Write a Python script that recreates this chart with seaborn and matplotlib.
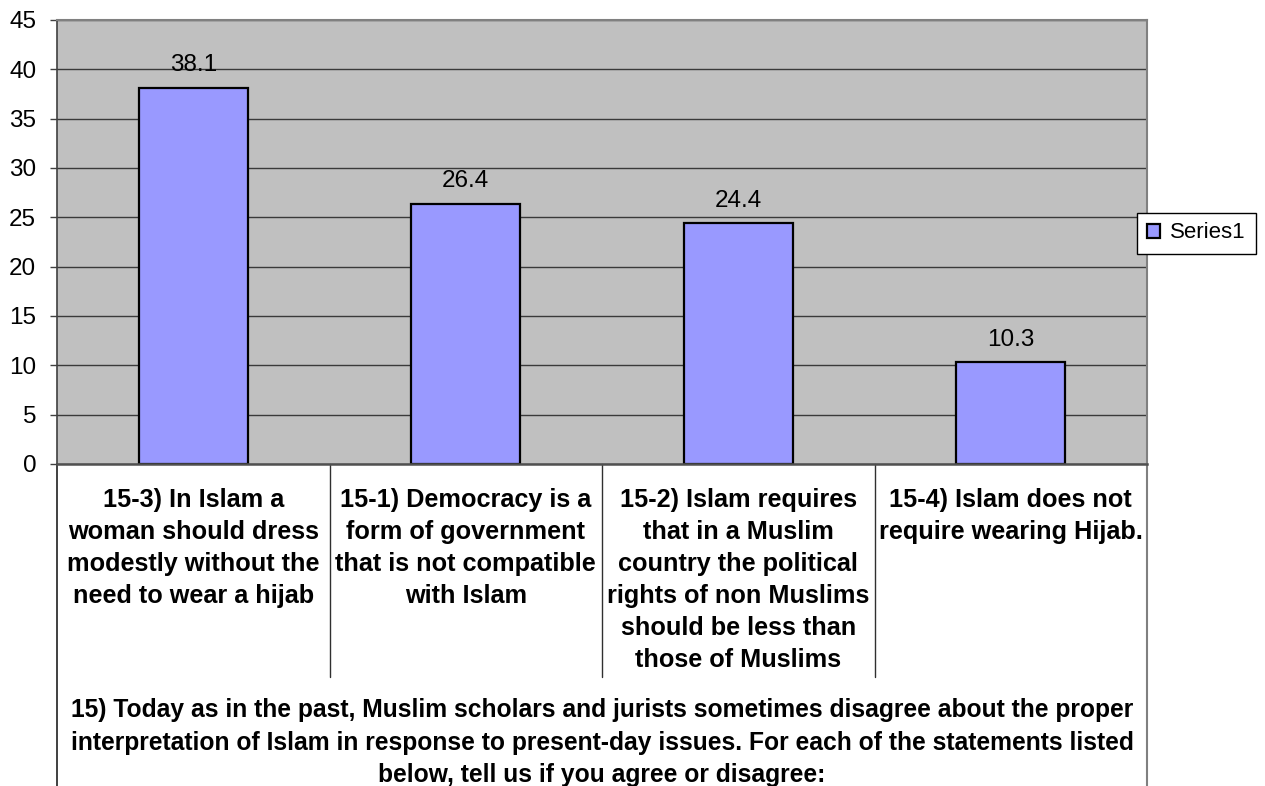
import matplotlib
matplotlib.use("Agg")
import matplotlib.pyplot as plt
import matplotlib.transforms as mtransforms
import seaborn as sns
import pandas as pd

categories = [
    "15-3) In Islam a\nwoman should dress\nmodestly without the\nneed to wear a hijab",
    "15-1) Democracy is a\nform of government\nthat is not compatible\nwith Islam",
    "15-2) Islam requires\nthat in a Muslim\ncountry the political\nrights of non Muslims\nshould be less than\nthose of Muslims",
    "15-4) Islam does not\nrequire wearing Hijab.",
]
values = [38.1, 26.4, 24.4, 10.3]
series_name = "Series1"
group_label = ("15) Today as in the past, Muslim scholars and jurists sometimes disagree about the proper\n"
               "interpretation of Islam in response to present-day issues. For each of the statements listed\n"
               "below, tell us if you agree or disagree:")
yticks = [0, 5, 10, 15, 20, 25, 30, 35, 40, 45]

sns.set_theme(style="white")
plt.rcParams['font.family'] = ['Liberation Sans', 'DejaVu Sans']
plt.rcParams['text.color'] = 'black'
plt.rcParams['ytick.color'] = 'black'

W, H = 1265, 786
fig = plt.figure(figsize=(W / 100, H / 100), dpi=100)
L, R, T, B = 57, 1147, 20, 464
ax = fig.add_axes([L / W, 1 - B / H, (R - L) / W, (B - T) / H])

df = pd.DataFrame({"cat": categories, "val": values, "series": series_name})
sns.barplot(data=df, x="cat", y="val", hue="series", palette=["#9999FF"],
            width=0.4, edgecolor="black", linewidth=1.6, saturation=1, ax=ax, legend=True)

ax.set_facecolor("#C0C0C0")
ax.set_ylim(0, 45)
ax.set_xlim(-0.5, len(categories) - 0.5)
ax.set_yticks(yticks)
ax.set_yticklabels([str(v) for v in yticks], fontsize=17.5)
ax.set_xticks([])
ax.set_xlabel("")
ax.set_ylabel("")
ax.yaxis.grid(True, color="#3a3a3a", linewidth=1)
ax.set_axisbelow(True)
ax.tick_params(axis="y", direction="out", length=5, width=1, color="#404040", pad=10,
               left=True, labelcolor="black")
for s in ["top", "right"]:
    ax.spines[s].set_color("#808080")
    ax.spines[s].set_linewidth(1.5)
ax.spines["left"].set_color("#404040")
ax.spines["left"].set_linewidth(1.2)
ax.spines["bottom"].set_color("#505050")
ax.spines["bottom"].set_linewidth(1.8)

# value labels
for i, v in enumerate(values):
    ax.annotate(f"{v}", (i, v), xytext=(0, 12), textcoords="offset points",
                ha="center", va="baseline", fontsize=17.5, color="black")

# category table below axes
trans = mtransforms.blended_transform_factory(ax.transData, fig.transFigure)
y_top = 1 - B / H
y_sep_bottom = 1 - 677 / H
for k in range(1, len(categories)):
    ax.plot([k - 0.5, k - 0.5], [y_top, y_sep_bottom], transform=trans, color="#303030",
            linewidth=1, clip_on=False)
ax.plot([-0.5, -0.5], [y_top, 0], transform=trans, color="#202020", linewidth=1.2, clip_on=False)
ax.plot([len(categories) - 0.5] * 2, [y_top, 0], transform=trans, color="#808080",
        linewidth=1.5, clip_on=False)

for i, c in enumerate(categories):
    ax.text(i, 1 - 488 / H, c, transform=trans, ha="center", va="top", fontsize=18.2,
            fontweight="bold", linespacing=1.42, multialignment="center", color="black")

ax.text((len(categories) - 1) / 2, 1 - 698 / H, group_label, transform=trans, ha="center",
        va="top", fontsize=17.7, fontweight="bold", linespacing=1.45, multialignment="center",
        color="black")

leg = ax.legend(loc="center left", bbox_to_anchor=(1137 / W, 1 - 233 / H),
                bbox_transform=fig.transFigure, fontsize=16, frameon=True, fancybox=False,
                framealpha=1, edgecolor="black", handlelength=0.6, handleheight=0.6,
                handletextpad=0.45, borderpad=0.45, borderaxespad=0)
leg.get_frame().set_linewidth(1)
for t in leg.get_texts():
    t.set_color("black")

fig.savefig("out.png", dpi=100, facecolor="white")
